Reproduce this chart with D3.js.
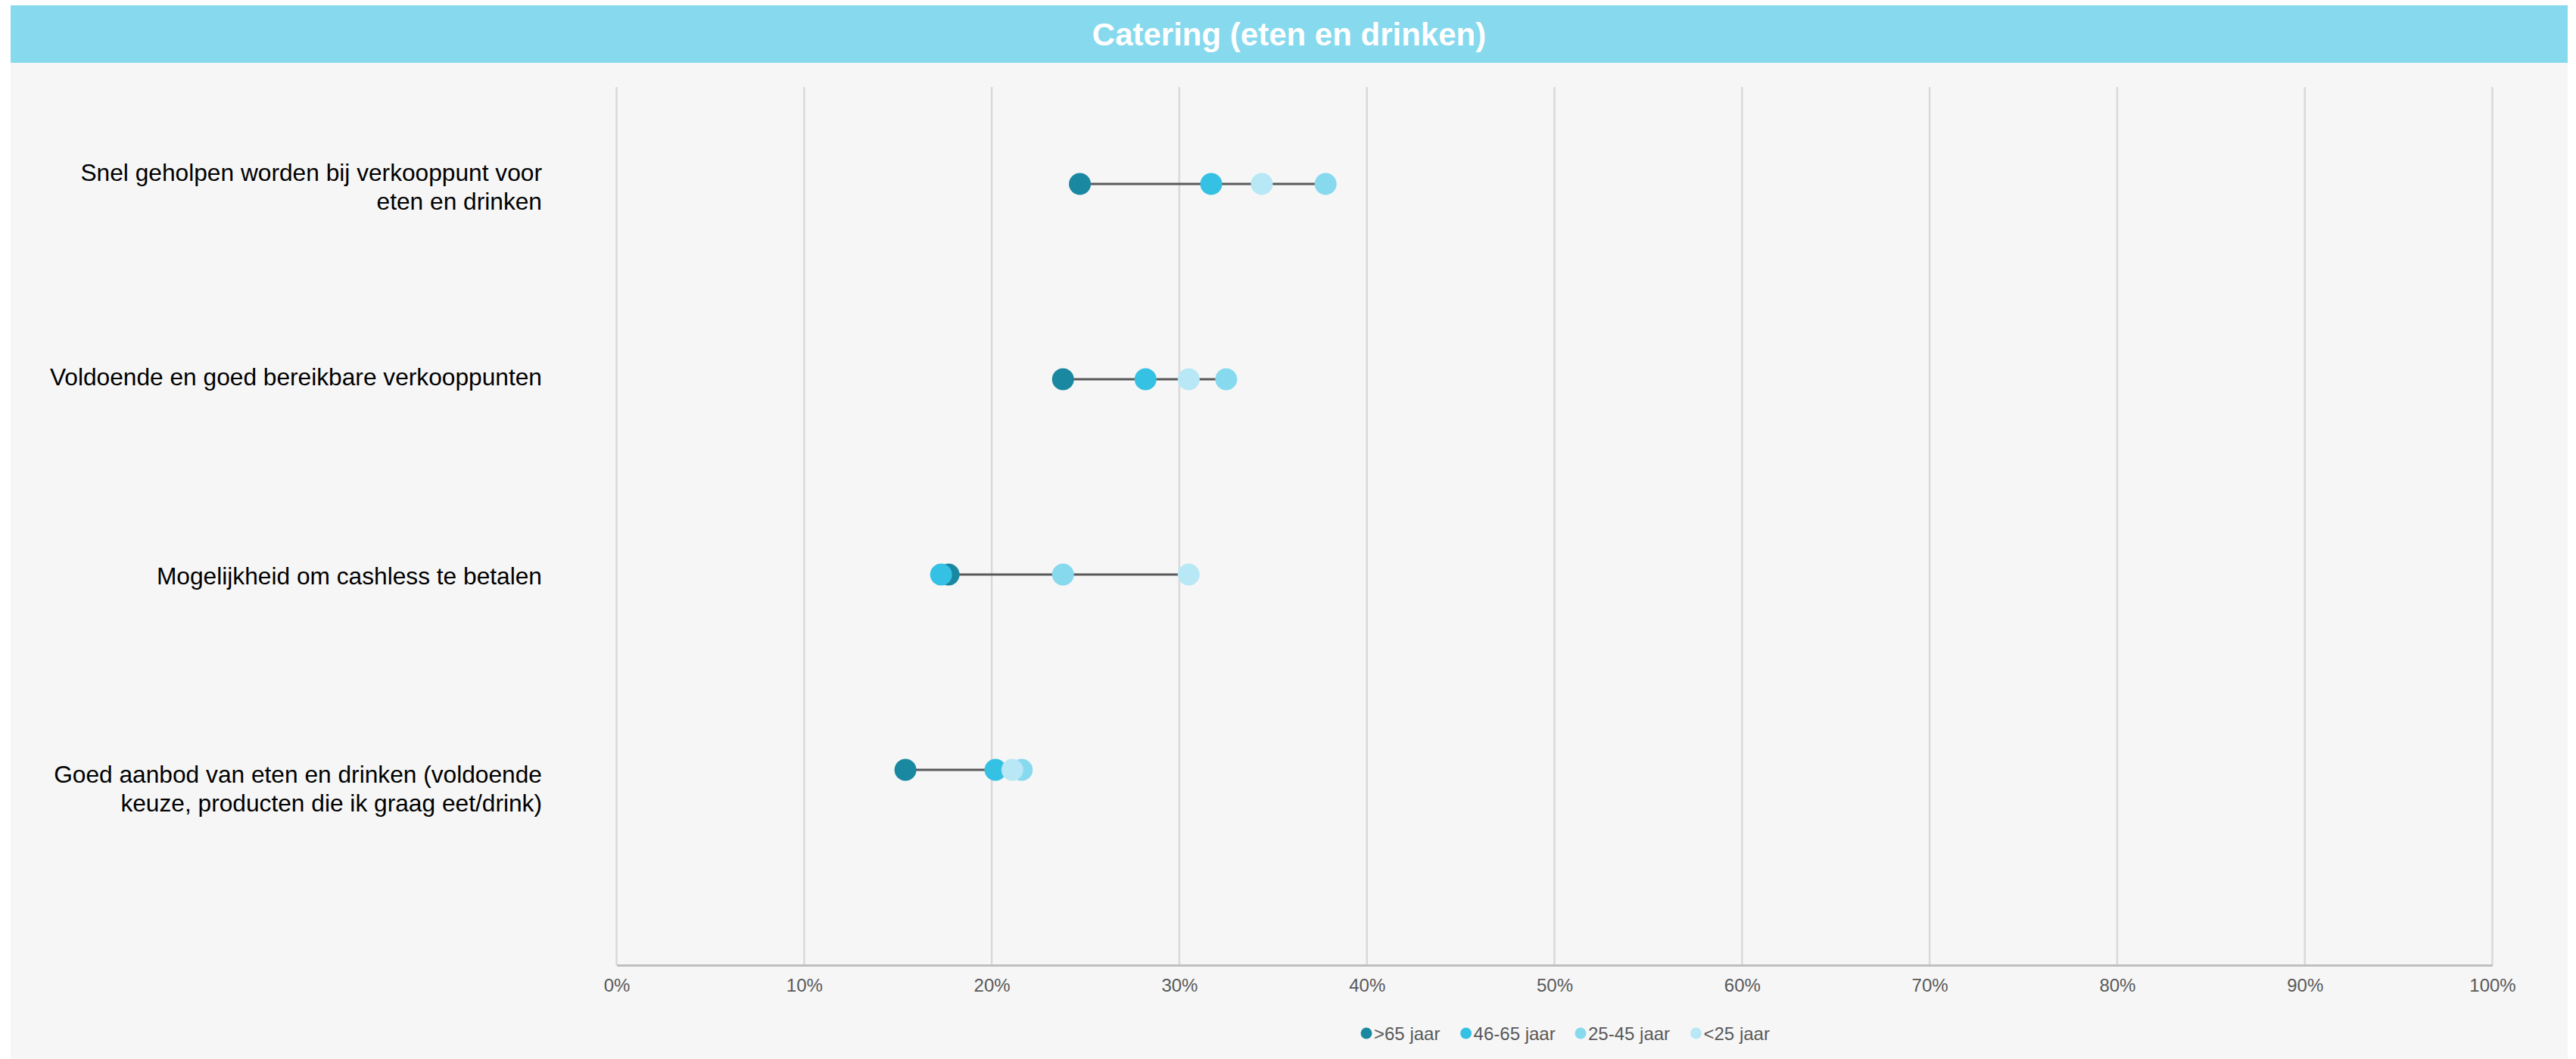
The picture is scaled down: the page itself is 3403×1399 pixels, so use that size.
<!DOCTYPE html>
<html>
<head>
<meta charset="utf-8">
<script src="https://cdn.jsdelivr.net/npm/d3@7"></script>
<style>
  html, body { margin: 0; padding: 0; background: #ffffff; }
  svg { display: block; font-family: "Liberation Sans", Arial, sans-serif; }
</style>
</head>
<body>
<svg id="chart" width="3403" height="1399"></svg>
<script>
// ---- Data ----
const title = "Catering (eten en drinken)";
const categories = [
  "Snel geholpen worden bij verkooppunt voor\neten en drinken",
  "Voldoende en goed bereikbare verkooppunten",
  "Mogelijkheid om cashless te betalen",
  "Goed aanbod van eten en drinken (voldoende\nkeuze, producten die ik graag eet/drink)"
];
const seriesNames = [">65 jaar", "46-65 jaar", "25-45 jaar", "<25 jaar"];
const seriesColors = ["#1a88a1", "#35c1e3", "#87d9ee", "#b8e7f5"];
const over65   = [24.7, 23.8, 17.7, 15.4];
const age46_65 = [31.7, 28.2, 17.3, 20.2];
const age25_45 = [37.8, 32.5, 23.8, 21.6];
const under25  = [34.4, 30.5, 30.5, 21.1];
const tickValues = [0, 10, 20, 30, 40, 50, 60, 70, 80, 90, 100];

const seriesValues = [over65, age46_65, age25_45, under25];

// ---- Layout ----
const panel = { x: 14, y: 7, w: 3378, h: 1392 };
const titleH = 76;
const plot = { left: 814.5, right: 3292.5, top: 115, bottom: 1275 };
const labelShift = [4, -3, 2, 25];   // vertical label offsets (layout only)

const svg = d3.select("#chart");

// Panel background
svg.append("rect")
  .attr("x", panel.x).attr("y", panel.y)
  .attr("width", panel.w).attr("height", panel.h)
  .attr("fill", "#f6f6f6");

// Title bar
svg.append("rect")
  .attr("x", panel.x).attr("y", panel.y)
  .attr("width", panel.w).attr("height", titleH)
  .attr("fill", "#87d9ee");
svg.append("text")
  .attr("x", panel.x + panel.w / 2)
  .attr("y", panel.y + titleH / 2)
  .attr("text-anchor", "middle")
  .attr("dominant-baseline", "central")
  .attr("fill", "#ffffff")
  .attr("font-weight", "bold")
  .attr("font-size", 42)
  .text(title);

// Scales
const x = d3.scaleLinear().domain([0, 100]).range([plot.left, plot.right]);
const y = d3.scalePoint().domain(categories).range([243, 1017]);

// Gridlines
svg.append("g")
  .selectAll("line")
  .data(tickValues)
  .join("line")
  .attr("x1", d => x(d)).attr("x2", d => x(d))
  .attr("y1", plot.top).attr("y2", plot.bottom)
  .attr("stroke", "#d9d9d9")
  .attr("stroke-width", 2.5);

// X axis
const xAxis = d3.axisBottom(x)
  .tickValues(tickValues)
  .tickFormat(d => d + "%")
  .tickSize(0)
  .tickPadding(18);
const gx = svg.append("g")
  .attr("transform", `translate(0,${plot.bottom})`)
  .call(xAxis);
gx.select(".domain").attr("stroke", "#bfbfbf").attr("stroke-width", 3);
gx.selectAll("text")
  .attr("font-family", "'Liberation Sans', Arial, sans-serif")
  .attr("font-size", 24)
  .attr("fill", "#595959");

// Category labels
const labels = svg.append("g")
  .selectAll("text")
  .data(categories)
  .join("text")
  .attr("text-anchor", "end")
  .attr("font-size", 31.7)
  .attr("fill", "#000000");
labels.each(function(d, idx) {
  const lines = d.split("\n");
  const lh = 38;
  const t = d3.select(this);
  const cy = y(d) + labelShift[idx];
  lines.forEach((ln, i) => {
    t.append("tspan")
      .attr("x", 716)
      .attr("y", cy + (i - (lines.length - 1) / 2) * lh)
      .attr("dominant-baseline", "central")
      .text(ln);
  });
});

// Connecting lines (min to max)
const rows = categories.map((c, i) => ({
  cat: c,
  vals: seriesValues.map(s => s[i])
}));
svg.append("g")
  .selectAll("line")
  .data(rows)
  .join("line")
  .attr("x1", d => x(d3.min(d.vals)))
  .attr("x2", d => x(d3.max(d.vals)))
  .attr("y1", d => y(d.cat))
  .attr("y2", d => y(d.cat))
  .attr("stroke", "#595959")
  .attr("stroke-width", 3);

// Dots
seriesValues.forEach((vals, si) => {
  svg.append("g")
    .selectAll("circle")
    .data(vals)
    .join("circle")
    .attr("cx", d => x(d))
    .attr("cy", (d, i) => y(categories[i]))
    .attr("r", 14.5)
    .attr("fill", seriesColors[si]);
});

// Legend
const legendX = [1805, 1936.6, 2088, 2240.5];
const legend = svg.append("g")
  .selectAll("g")
  .data(seriesNames)
  .join("g")
  .attr("transform", (d, i) => `translate(${legendX[i]},1365)`);
legend.append("circle")
  .attr("r", 7.5)
  .attr("fill", (d, i) => seriesColors[i]);
legend.append("text")
  .attr("x", 10)
  .attr("dominant-baseline", "central")
  .attr("font-size", 24)
  .attr("fill", "#595959")
  .text(d => d);
</script>
</body>
</html>
